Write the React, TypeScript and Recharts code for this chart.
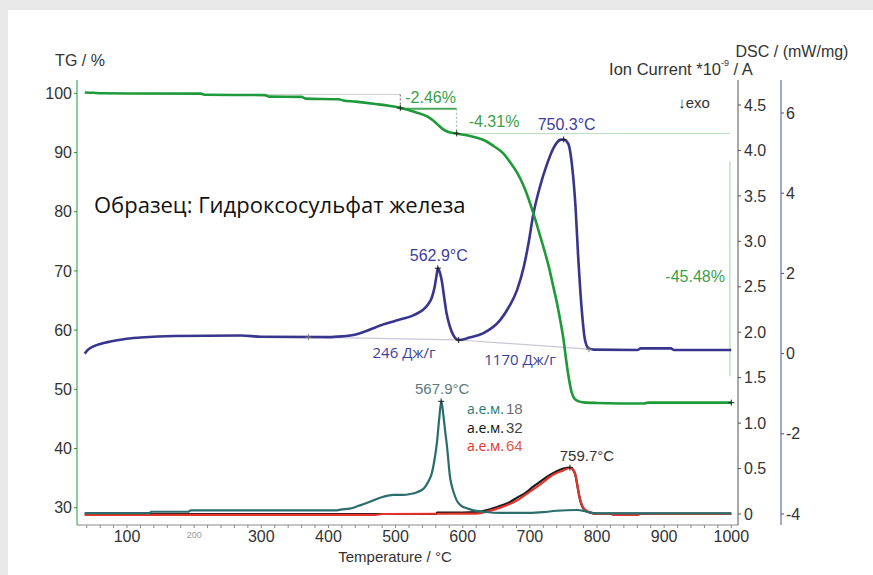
import React from 'react';
import { LineChart, Line, XAxis, YAxis, ReferenceDot } from 'recharts';

// ---------- ticks ----------
const xMajorTicks = [100, 200, 300, 400, 500, 600, 700, 800, 900, 1000];
const xMinorTicks = [40, 60, 80, 120, 140, 160, 180, 220, 240, 260, 280, 320, 340, 360, 380, 420, 440, 460, 480, 520, 540, 560, 580, 620, 640, 660, 680, 720, 740, 760, 780, 820, 840, 860, 880, 920, 940, 960, 980];
const tgTicks = [30, 40, 50, 60, 70, 80, 90, 100];
const ionTicks = [0, 0.5, 1.0, 1.5, 2.0, 2.5, 3.0, 3.5, 4.0, 4.5];
const dscTicks = [-4, -2, 0, 2, 4, 6];

// ---------- series (temperature °C, value) ----------
const tgCurve: [number, number][] = [
  [37, 100.15], [50, 100.1], [60, 100.0], [210, 99.95], [215, 99.75], [305, 99.7], [312, 99.45], [360, 99.4],
  [366, 99.1], [415, 99.0], [422, 98.8], [440, 98.6], [470, 98.2], [490, 97.9], [507, 97.54], [530, 96.8],
  [547, 96.1], [555, 95.5], [562, 94.8], [570, 94.0], [576, 93.6], [583, 93.35], [591, 93.2], [606, 92.9],
  [621, 92.5], [635, 91.9], [646, 91.1], [660, 89.9], [671, 88.3], [681, 86.6], [691, 84.3], [698, 82.2],
  [705, 79.8], [712, 77.2], [720, 74.1], [728, 70.8], [735, 67.3], [741, 64.2], [746, 61.2], [750, 58.5],
  [754, 55.0], [758, 51.9], [762, 49.6], [766, 48.5], [772, 48.0], [780, 47.8], [800, 47.7], [870, 47.6],
  [876, 47.75], [1000, 47.75],
];

const dscCurve: [number, number][] = [
  [37, 0.0], [42, 0.1], [50, 0.18], [60, 0.24], [75, 0.3], [95, 0.36], [120, 0.4], [170, 0.44], [270, 0.45],
  [300, 0.42], [400, 0.41], [420, 0.43], [435, 0.46], [447, 0.51], [462, 0.6], [477, 0.7], [500, 0.82],
  [527, 0.96], [540, 1.08], [548, 1.22], [554, 1.4], [558, 1.65], [561, 1.95], [563, 2.13], [566, 2.02],
  [569, 1.8], [572, 1.45], [576, 1.0], [581, 0.67], [586, 0.46], [590, 0.37], [594, 0.34], [610, 0.4],
  [631, 0.51], [656, 0.84], [670, 1.2], [681, 1.59], [691, 2.17], [698, 2.75], [705, 3.46], [715, 4.16],
  [725, 4.7], [735, 5.12], [745, 5.33], [750, 5.34], [757, 5.24], [763, 4.66], [768, 3.66], [772, 2.4],
  [775, 1.6], [778, 0.95], [782, 0.35], [787, 0.14], [795, 0.1], [860, 0.09], [865, 0.13], [910, 0.13],
  [915, 0.09], [1000, 0.09],
];

const ion18: [number, number][] = [
  [37, 0.01], [134, 0.01], [136, 0.025], [191, 0.025], [195, 0.04], [410, 0.04], [420, 0.05], [432, 0.06],
  [445, 0.09], [457, 0.12], [470, 0.16], [482, 0.19], [497, 0.21], [510, 0.21], [522, 0.22], [532, 0.24],
  [542, 0.28], [549, 0.36], [554, 0.45], [558, 0.6], [561.5, 0.78], [565, 1.05], [568, 1.24], [571, 1.1],
  [574, 0.9], [576.5, 0.75], [581, 0.41], [586, 0.25], [591, 0.15], [598, 0.09], [606, 0.063], [620, 0.035],
  [631, 0.025], [656, 0.012], [700, 0.012], [720, 0.02], [740, 0.036], [770, 0.044], [780, 0.035],
  [790, 0.015], [800, 0.008], [1000, 0.008],
];

const ion32: [number, number][] = [
  [37, 0.0], [560, 0.0], [562, 0.015], [600, 0.015], [621, 0.02], [640, 0.05], [656, 0.09], [670, 0.13],
  [681, 0.18], [693, 0.23], [705, 0.3], [718, 0.37], [730, 0.43], [740, 0.47], [750, 0.5], [760, 0.51],
  [764, 0.49], [768, 0.42], [771, 0.3], [774, 0.18], [777, 0.1], [781, 0.05], [790, 0.015], [800, 0.005],
  [1000, 0.005],
];

const ion64: [number, number][] = [
  [37, -0.01], [470, -0.01], [480, 0.0], [620, 0.005], [640, 0.035], [656, 0.07], [670, 0.11], [681, 0.15],
  [693, 0.21], [705, 0.27], [718, 0.34], [730, 0.41], [740, 0.45], [750, 0.48], [756, 0.5], [760, 0.51],
  [764, 0.49], [768, 0.43], [771, 0.31], [774, 0.19], [777, 0.11], [781, 0.055], [790, 0.015], [800, 0.0],
  [820, 0.0], [825, -0.01], [860, -0.01], [865, 0.0], [1000, 0.0],
];

// construction lines
const tgStartLevel: [number, number][] = [[300, 99.8], [507, 99.8]];
const tgStep1Drop: [number, number][] = [[507, 99.8], [507, 97.4]];
const tgStep1Level: [number, number][] = [[507, 97.4], [591, 97.4]];
const tgStep2Drop: [number, number][] = [[591, 97.4], [591, 93.2]];
const tgStep2Level: [number, number][] = [[591, 93.2], [998, 93.2]];
const tgStep3Span: [number, number][] = [[998, 88.5], [998, 52.2]];
const dscBase1: [number, number][] = [[370, 0.41], [594, 0.34]];
const dscBase2: [number, number][] = [[594, 0.34], [788, 0.11]];

const rows = (pts: [number, number][]) => pts.map(([t, v]) => ({ t, v }));

const SANS = 'Liberation Sans, Arial, sans-serif';
const OPEN = 'Open Sans, Noto Sans, sans-serif';
const GREEN = '#1f9a3a';
const BLUE = '#38368c';
const TEAL = '#2b6d6d';
const ION = 'a_ion';
const DSC = 'z_dsc';

const XTick = (props: any) => {
  const { x, y, payload } = props;
  const v = payload.value;
  if (v % 100 !== 0) return null;
  const small = v === 200;
  return (
    <text x={x} y={y} dy={small ? 8 : 12} textAnchor="middle" fontFamily={SANS}
      fontSize={small ? 9 : 16} fill={small ? '#9a9a9a' : '#333'}>{v}</text>
  );
};

const marker = (label: string, dx: number, dy: number, color: string, size: number, anchor = 'middle', crossColor = '#222') =>
  (p: any) => (
    <g>
      <path d={`M${p.cx - 3},${p.cy}h6M${p.cx},${p.cy - 3}v6`} stroke={crossColor} strokeWidth={1} />
      {label ? (
        <text x={p.cx + dx} y={p.cy + dy} textAnchor={anchor} dominantBaseline="central"
          fontFamily={SANS} fontSize={size} fill={color}>{label}</text>
      ) : null}
    </g>
  );

export default function App() {
  return (
    <div style={{ position: 'absolute', left: 0, top: 0, width: 873, height: 575, background: '#e9e9e9', overflow: 'hidden' }}>
      <div style={{ position: 'absolute', left: 8, top: 10, right: 0, bottom: 0, background: '#ffffff' }} />
      <div style={{ position: 'absolute', left: 0, top: 0 }}>
        <LineChart width={873} height={575} margin={{ top: 80, right: 42, bottom: 20, left: 27 }}>
          <XAxis type="number" dataKey="t" domain={[25.5, 1010]} allowDataOverflow
            ticks={[...xMinorTicks, ...xMajorTicks].sort((a, b) => a - b)}
            interval={0} tick={<XTick />} tickSize={3} stroke="#8a8a8a" height={30} />
          <YAxis yAxisId="tg" orientation="left" type="number" domain={[27.08, 102.25]} allowDataOverflow
            ticks={tgTicks} interval={0} width={50} tickSize={3} tickMargin={2} stroke={GREEN}
            tick={{ fill: '#333', fontSize: 16, fontFamily: SANS }} />
          <YAxis yAxisId={ION} orientation="right" type="number" domain={[-0.121, 4.775]} allowDataOverflow
            ticks={ionTicks} interval={0} width={43} tickSize={3} tickMargin={3} stroke="#555"
            tickFormatter={(v: number) => (v === 0 ? '0' : v.toFixed(1))}
            tick={{ fill: '#333', fontSize: 16, fontFamily: SANS }} />
          <YAxis yAxisId={DSC} orientation="right" type="number" domain={[-4.274, 6.823]} allowDataOverflow
            ticks={dscTicks} interval={0} width={50} tickSize={3} tickMargin={2} stroke="#50509e"
            tick={{ fill: '#333', fontSize: 16, fontFamily: SANS }} />

          <Line yAxisId={DSC} data={rows(dscBase1)} dataKey="v" type="linear" stroke="#c8c8d6" strokeWidth={1.2} dot={false} isAnimationActive={false} />
          <Line yAxisId={DSC} data={rows(dscBase2)} dataKey="v" type="linear" stroke="#c8c8d6" strokeWidth={1.2} dot={false} isAnimationActive={false} />
          <Line yAxisId="tg" data={rows(tgStartLevel)} dataKey="v" type="linear" stroke="#cfcfcf" strokeWidth={1.2} dot={false} isAnimationActive={false} />
          <Line yAxisId="tg" data={rows(tgStep1Drop)} dataKey="v" type="linear" stroke="#666" strokeWidth={1} strokeDasharray="2 2" dot={false} isAnimationActive={false} />
          <Line yAxisId="tg" data={rows(tgStep1Level)} dataKey="v" type="linear" stroke="#4aa85a" strokeWidth={2} dot={false} isAnimationActive={false} />
          <Line yAxisId="tg" data={rows(tgStep2Drop)} dataKey="v" type="linear" stroke="#8cc896" strokeWidth={1} strokeDasharray="2 2" dot={false} isAnimationActive={false} />
          <Line yAxisId="tg" data={rows(tgStep2Level)} dataKey="v" type="linear" stroke="#b8ddbc" strokeWidth={1} dot={false} isAnimationActive={false} />
          <Line yAxisId="tg" data={rows(tgStep3Span)} dataKey="v" type="linear" stroke="#9fd1a5" strokeWidth={1} dot={false} isAnimationActive={false} />

          <Line yAxisId={DSC} data={rows(dscCurve)} dataKey="v" type="monotone" stroke={BLUE} strokeWidth={2.6} dot={false} isAnimationActive={false} />
          <Line yAxisId="tg" data={rows(tgCurve)} dataKey="v" type="monotone" stroke={GREEN} strokeWidth={2.6} dot={false} isAnimationActive={false} />
          <Line yAxisId={ION} data={rows(ion32)} dataKey="v" type="monotone" stroke="#1a1a1a" strokeWidth={2.2} dot={false} isAnimationActive={false} />
          <Line yAxisId={ION} data={rows(ion64)} dataKey="v" type="monotone" stroke="#e3342c" strokeWidth={2.2} dot={false} isAnimationActive={false} />
          <Line yAxisId={ION} data={rows(ion18)} dataKey="v" type="monotone" stroke={TEAL} strokeWidth={2.2} dot={false} isAnimationActive={false} />

          <ReferenceDot yAxisId="tg" x={507} y={97.54} r={3} shape={marker('-2.46%', 5, -10, '#3aa04a', 16, 'start')} />
          <ReferenceDot yAxisId="tg" x={591} y={93.23} r={3} shape={marker('-4.31%', 12, -12, '#3aa04a', 16, 'start')} />
          <ReferenceDot yAxisId="tg" x={998} y={70} r={3} shape={marker('-45.48%', -5, 6, '#3aa04a', 16, 'end', 'none')} />
          <ReferenceDot yAxisId="tg" x={1000} y={47.75} r={3} shape={marker('', 0, 0, '#222', 12)} />
          <ReferenceDot yAxisId={DSC} x={562.9} y={2.13} r={3} shape={marker('562.9°C', 1, -13, '#3d3d9a', 16)} />
          <ReferenceDot yAxisId={DSC} x={750.3} y={5.34} r={3} shape={marker('750.3°C', 3, -14.5, '#3d3d9a', 16)} />
          <ReferenceDot yAxisId={DSC} x={370} y={0.41} r={3} shape={marker('', 0, 0, '#222', 12, 'middle', '#777')} />
          <ReferenceDot yAxisId={DSC} x={594} y={0.34} r={3} shape={marker('', 0, 0, '#222', 12)} />
          <ReferenceDot yAxisId={DSC} x={788} y={0.11} r={3} shape={marker('', 0, 0, '#222', 12, 'middle', '#777')} />
          <ReferenceDot yAxisId={ION} x={567.9} y={1.24} r={3} shape={marker('567.9°C', 1, -13, '#5d7a7e', 15)} />
          <ReferenceDot yAxisId={ION} x={759.7} y={0.51} r={3} shape={marker('759.7°C', 17, -12.5, '#333', 15)} />
        </LineChart>
      </div>
      <svg width={873} height={575} style={{ position: 'absolute', left: 0, top: 0, pointerEvents: 'none' }}>
        <text x={80} y={60} textAnchor="middle" dominantBaseline="central" fontFamily={SANS} fontSize={16} fill="#333">TG / %</text>
        <text x={792} y={51} textAnchor="middle" dominantBaseline="central" fontFamily={SANS} fontSize={16} fill="#333">DSC / (mW/mg)</text>
        <text x={681} y={69} textAnchor="middle" dominantBaseline="central" fontFamily={SANS} fontSize={16.5} fill="#333">
          Ion Current *10<tspan dy={-6} fontSize={9}>-9</tspan><tspan dy={6}> / A</tspan>
        </text>
        <text x={694} y={102} textAnchor="middle" dominantBaseline="central" fontFamily={SANS} fontSize={15} fill="#333">↓exo</text>
        <text x={94} y={213} fontFamily={OPEN} fontSize={22} fill="#111">Образец: Гидроксосульфат железа</text>
        <text x={404} y={352} textAnchor="middle" dominantBaseline="central" fontFamily={OPEN} fontSize={15} fill="#3d3d9a">246 Дж/г</text>
        <text x={520} y={359} textAnchor="middle" dominantBaseline="central" fontFamily={OPEN} fontSize={15} fill="#3d3d9a">1170 Дж/г</text>
        <text x={467} y={414} fontFamily={OPEN} fontSize={14} fill="#2b7b7b">а.е.м.<tspan fontFamily={SANS} fontSize={15} fill="#707070" dx={2}>18</tspan></text>
        <text x={467} y={432.5} fontFamily={OPEN} fontSize={14} fill="#111">а.е.м.<tspan fontFamily={SANS} fontSize={15} fill="#444" dx={2}>32</tspan></text>
        <text x={467} y={451} fontFamily={OPEN} fontSize={14} fill="#e3342c">а.е.м.<tspan fontFamily={SANS} fontSize={15} fill="#e0584a" dx={2}>64</tspan></text>
        <text x={395} y={556} textAnchor="middle" dominantBaseline="central" fontFamily={SANS} fontSize={15} fill="#333">Temperature / °C</text>
      </svg>
    </div>
  );
}
